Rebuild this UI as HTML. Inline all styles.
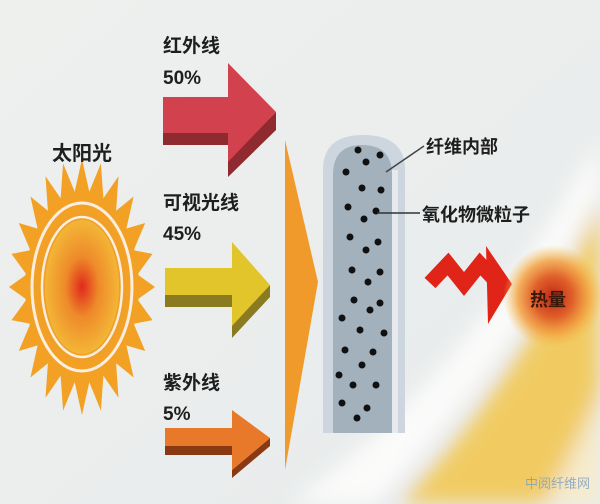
<!DOCTYPE html>
<html><head><meta charset="utf-8"><style>
html,body{margin:0;padding:0;width:600px;height:504px;overflow:hidden;background:#e8ebea}
svg{display:block}
text{font-family:"Liberation Sans","Noto Sans CJK SC",sans-serif;fill:#1e1e1e;font-weight:bold}
</style></head><body>
<svg width="600" height="504" viewBox="0 0 600 504" xmlns="http://www.w3.org/2000/svg">
<defs>
<radialGradient id="core" cx="50%" cy="50%" r="50%">
<stop offset="0" stop-color="#e02a1c"/><stop offset="0.45" stop-color="#ee8a2a"/><stop offset="1" stop-color="#f3b636"/>
</radialGradient>
<radialGradient id="heat" cx="50%" cy="50%" r="50%">
<stop offset="0" stop-color="#c02818"/><stop offset="0.4" stop-color="#e0602a"/><stop offset="0.7" stop-color="#f2a040" stop-opacity="0.85"/><stop offset="1" stop-color="#f5c050" stop-opacity="0"/>
</radialGradient>
<linearGradient id="bg" x1="0" y1="0" x2="1" y2="1">
<stop offset="0" stop-color="#eef0ee"/><stop offset="1" stop-color="#e8ebec"/>
</linearGradient>
<filter id="blur"><feGaussianBlur stdDeviation="10"/></filter>
</defs>
<rect width="600" height="504" fill="url(#bg)"/>
<g filter="url(#blur)">
<path d="M400 504 C480 420 550 320 600 200 L600 504 Z" fill="#f2c64a" opacity="0.85"/>
<path d="M290 504 C410 420 510 300 600 140 L600 190 C535 320 445 430 375 504 Z" fill="#fbfbfa"/>
<path d="M545 504 C570 460 590 420 600 390 L600 504 Z" fill="#fafafa" opacity="0.7"/>
</g>
<polygon fill="#f2a125" points="82,159 89.3,191.8 100.9,163.4 103.4,198.3 118.5,176.2 116.1,210.8 133.6,196.5 126.4,228.6 145.2,223 133.7,250.3 152.5,253.9 137.5,274.5 155,287 137.5,299.5 152.5,320.1 133.7,323.7 145.2,351 126.4,345.4 133.6,377.5 116.1,363.2 118.5,397.8 103.4,375.7 100.9,410.6 89.3,382.2 82,415 74.7,382.2 63.1,410.6 60.6,375.7 45.5,397.8 47.9,363.2 30.4,377.5 37.6,345.4 18.8,351 30.3,323.7 11.5,320.1 26.5,299.5 9,287 26.5,274.5 11.5,253.9 30.3,250.3 18.8,223 37.6,228.6 30.4,196.5 47.9,210.8 45.5,176.2 60.6,198.3 63.1,163.4 74.7,191.8"/>
<ellipse cx="82" cy="287" rx="57" ry="94" fill="#f2a125"/>
<ellipse cx="82" cy="287" rx="50" ry="84" fill="none" stroke="#fbeee0" stroke-width="3"/>
<ellipse cx="82" cy="287" rx="44" ry="75" fill="#f0a028"/>
<ellipse cx="82" cy="287" rx="40" ry="70" fill="none" stroke="#fbeee0" stroke-width="2.5"/>
<ellipse cx="82" cy="287" rx="37" ry="67" fill="url(#core)"/>
<text x="52" y="160" font-size="20">太阳光</text>
<text x="163" y="52" font-size="19">红外线</text>
<text x="163" y="84" font-size="19">50%</text>
<polygon points="163,133 228,133 228,177 276,130 276,112 228,160 228,145 163,145" fill="#8e2a30"/>
<polygon points="163,97 228,97 228,63 276,112 228,162 228,133 163,133" fill="#d2424e"/>
<text x="163" y="209" font-size="19">可视光线</text>
<text x="163" y="240" font-size="19">45%</text>
<polygon points="165,295 232,295 232,338 270,297 270,285 232,325 232,307 165,307" fill="#8a7a20"/>
<polygon points="165,268 232,268 232,242 270,285 232,326 232,295 165,295" fill="#e2c52a"/>
<text x="163" y="389" font-size="19">紫外线</text>
<text x="163" y="420" font-size="19">5%</text>
<polygon points="165,446 232,446 232,478 270,446 270,438 232,470 232,455 165,455" fill="#8a3a12"/>
<polygon points="165,428 232,428 232,410 270,438 232,470 232,446 165,446" fill="#e8782a"/>
<polygon points="285,140 318,282 285,470" fill="#ef9a2a"/>
<path d="M323 433 L323 170 Q323 135 363 135 Q405 135 405 170 L405 433 Z" fill="#cdd6de"/>
<path d="M333 433 L333 175 Q333 145 362 145 Q392 145 392 175 L392 433 Z" fill="#a3b1bd"/>
<rect x="392" y="170" width="6" height="263" fill="#e6eaee"/>
<g fill="#111">
<circle cx="358" cy="150" r="3.5"/><circle cx="380" cy="155" r="3.5"/><circle cx="366" cy="162" r="3.5"/>
<circle cx="346" cy="172" r="3.5"/><circle cx="362" cy="188" r="3.5"/><circle cx="381" cy="190" r="3.5"/>
<circle cx="348" cy="207" r="3.5"/><circle cx="376" cy="211" r="3.5"/><circle cx="364" cy="219" r="3.5"/>
<circle cx="350" cy="237" r="3.5"/><circle cx="378" cy="242" r="3.5"/><circle cx="366" cy="250" r="3.5"/>
<circle cx="352" cy="270" r="3.5"/><circle cx="380" cy="272" r="3.5"/><circle cx="368" cy="282" r="3.5"/>
<circle cx="354" cy="300" r="3.5"/><circle cx="380" cy="303" r="3.5"/><circle cx="370" cy="310" r="3.5"/>
<circle cx="342" cy="318" r="3.5"/><circle cx="360" cy="330" r="3.5"/><circle cx="384" cy="333" r="3.5"/>
<circle cx="345" cy="350" r="3.5"/><circle cx="373" cy="352" r="3.5"/><circle cx="362" cy="365" r="3.5"/>
<circle cx="339" cy="375" r="3.5"/><circle cx="353" cy="385" r="3.5"/><circle cx="376" cy="385" r="3.5"/>
<circle cx="342" cy="403" r="3.5"/><circle cx="367" cy="408" r="3.5"/><circle cx="357" cy="418" r="3.5"/>
</g>
<line x1="386" y1="172" x2="424" y2="146" stroke="#444" stroke-width="1.5"/>
<line x1="377" y1="213" x2="420" y2="213" stroke="#333" stroke-width="1.5"/>
<text x="426" y="153" font-size="18">纤维内部</text>
<text x="422" y="221" font-size="18">氧化物微粒子</text>
<polyline points="430,283 448,264 464,284 480,264 494,279" fill="none" stroke="#e02418" stroke-width="15" stroke-linejoin="miter"/>
<polygon points="486,246 512,284 488,324" fill="#e02418"/>
<ellipse cx="553" cy="297" rx="50" ry="52" fill="url(#heat)"/>
<text x="530" y="306" font-size="18" style="fill:#3a1808">热量</text>
<text x="525" y="488" font-size="13" style="fill:#7e9ec0;font-weight:normal" opacity="0.8">中阅纤维网</text>
</svg>
</body></html>
